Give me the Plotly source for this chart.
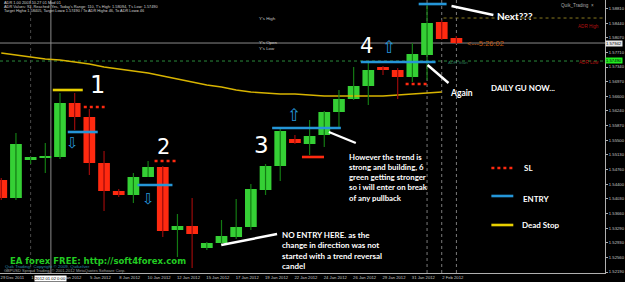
import plotly.graph_objects as go

# ---------------- data (daily GBPUSD candles, index 0 = 29 Dec 2011) ----------------
candle_idx = list(range(32))
opens = [1.54501, 1.54049, 1.55003, 1.55054, 1.55079, 1.56435, 1.56084, 1.54928,
         1.54225, 1.54124, 1.54576, 1.54828, 1.53245, 1.53346, 1.52793, 1.52918,
         1.53069, 1.53320, 1.54250, 1.54853, 1.55531, 1.55405, 1.55631, 1.56209,
         1.56536, 1.56862, 1.57340, 1.57264, 1.57088, 1.57641, 1.58470, 1.58068]
highs = [1.54551, 1.55682, 1.55079, 1.55430, 1.56686, 1.56686, 1.56285, 1.55230,
         1.54275, 1.54677, 1.54978, 1.54853, 1.53647, 1.54049, 1.52944, 1.53496,
         1.54024, 1.54401, 1.54903, 1.55782, 1.55631, 1.56008, 1.56234, 1.56762,
         1.57340, 1.57490, 1.57365, 1.57314, 1.57942, 1.58897, 1.58520, 1.58118]
lows = [1.53999, 1.53999, 1.54903, 1.54677, 1.55029, 1.55757, 1.54627, 1.53722,
        1.54074, 1.53923, 1.54576, 1.53069, 1.52567, 1.52290, 1.52743, 1.52868,
        1.53019, 1.53245, 1.54124, 1.54476, 1.55405, 1.55129, 1.55330, 1.55782,
        1.56511, 1.56385, 1.57139, 1.56536, 1.56963, 1.57013, 1.58018, 1.57917]
closes = [1.54049, 1.55405, 1.55079, 1.55104, 1.56435, 1.56084, 1.54928, 1.54225,
          1.54124, 1.54576, 1.54828, 1.53220, 1.53346, 1.53145, 1.52918, 1.53094,
          1.53320, 1.54275, 1.54853, 1.55732, 1.55430, 1.55606, 1.56209, 1.56536,
          1.56862, 1.57264, 1.57264, 1.57088, 1.57666, 1.58445, 1.58043, 1.57942]

ma_idx = list(range(31))
ma_values = [1.57691, 1.57641, 1.57591, 1.57541, 1.57515, 1.57465, 1.57415, 1.57340,
             1.57289, 1.57239, 1.57189, 1.57114, 1.57038, 1.56963, 1.56887, 1.56837,
             1.56762, 1.56712, 1.56686, 1.56661, 1.56661, 1.56636, 1.56611, 1.56611,
             1.56611, 1.56611, 1.56611, 1.56636, 1.56661, 1.56686, 1.56712]

# trade levels drawn on the chart: price, start candle, end candle
sl_price = [1.56335, 1.54978, 1.56913]
sl_start = [5.62, 10.44, 27.54]
sl_end = [7.04, 11.93, 29.11]
sl_solid_price = [1.55079]
sl_solid_start = [20.48]
sl_solid_end = [21.98]
entry_price = [1.55707, 1.54375, 1.55807, 1.57465, 1.58922]
entry_start = [4.53, 9.28, 18.45, 24.49, 28.43]
entry_end = [6.57, 11.66, 23.13, 29.58, 30.33]
dead_price = [1.56762]
dead_start = [3.51]
dead_end = [5.55]

bid_price = 1.57942
adr_low = 1.57490
ys_high = 1.58570

x_label_idx = [0, 2, 4, 6, 8, 10, 12, 14, 16, 18, 20, 22, 24, 26, 28, 30]
x_labels = ["29 Dec 2011", "1 Jan 2012", "3 Jan 2012", "5 Jan 2012", "8 Jan 2012",
            "10 Jan 2012", "12 Jan 2012", "15 Jan 2012", "17 Jan 2012", "19 Jan 2012",
            "22 Jan 2012", "24 Jan 2012", "26 Jan 2012", "29 Jan 2012", "31 Jan 2012",
            "2 Feb 2012"]
y_ticks = [1.52190, 1.52560, 1.52930, 1.53290, 1.53660, 1.54030, 1.54400, 1.54760,
           1.55130, 1.55500, 1.55870, 1.56240, 1.56600, 1.56970, 1.57340, 1.57710,
           1.58070, 1.58440, 1.58810]

# ---------------- styling ----------------
GREEN_BODY = "#35d035"
RED_BODY = "#ff2a10"
GREEN_WICK = "#137a13"
RED_WICK = "#9a0a0a"
BLUE = "#2596d8"
SL_RED = "#ff2a10"
YELLOW = "#e8d000"
AX = "#b0b0b0"
SMALL = "Liberation Sans"
NOTE = "Lato"

W, H = 625, 282
PL, PR, PT, PB = 0, 18, 0, 9
PW, PH = W - PL - PR, H - PT - PB


def px(x):
    return (x - PL) / PW


def py(y):
    return (PT + PH - y) / PH


fig = go.Figure()

# moving average
fig.add_trace(go.Scatter(x=ma_idx, y=ma_values, mode="lines",
                         line=dict(color="#d8b400", width=1.4), hoverinfo="skip"))

# wicks
gx, gy, rx, ry = [], [], [], []
for i, o, h, l, c in zip(candle_idx, opens, highs, lows, closes):
    if c >= o:
        gx += [i, i, None]; gy += [l, h, None]
    else:
        rx += [i, i, None]; ry += [l, h, None]
fig.add_trace(go.Scatter(x=gx, y=gy, mode="lines", line=dict(color=GREEN_WICK, width=1.2), hoverinfo="skip"))
fig.add_trace(go.Scatter(x=rx, y=ry, mode="lines", line=dict(color=RED_WICK, width=1.2), hoverinfo="skip"))

# bodies
bases, heights, cols = [], [], []
for o, c in zip(opens, closes):
    bases.append(min(o, c))
    heights.append(max(abs(c - o), 0.00018))
    cols.append(GREEN_BODY if c >= o else RED_BODY)
fig.add_trace(go.Bar(x=candle_idx, y=heights, base=bases, width=0.8,
                     marker=dict(color=cols, line=dict(width=0)), hoverinfo="skip"))


def seg(prices, starts, ends):
    xs, ys = [], []
    for p, s, e in zip(prices, starts, ends):
        xs += [s, e, None]; ys += [p, p, None]
    return xs, ys


for (pr, st, en), color, dash in [
    ((entry_price, entry_start, entry_end), BLUE, "solid"),
    ((sl_price, sl_start, sl_end), SL_RED, "dot"),
    ((sl_solid_price, sl_solid_start, sl_solid_end), SL_RED, "solid"),
    ((dead_price, dead_start, dead_end), YELLOW, "solid"),
]:
    xs, ys = seg(pr, st, en)
    fig.add_trace(go.Scatter(x=xs, y=ys, mode="lines",
                             line=dict(color=color, width=2.6, dash=dash), hoverinfo="skip"))

shapes = []
# horizontal indicator lines
shapes.append(dict(type="line", xref="paper", x0=0, x1=1, yref="y", y0=bid_price, y1=bid_price,
                   line=dict(color="#8a8a8a", width=1), layer="below"))
shapes.append(dict(type="line", xref="paper", x0=0, x1=1, yref="y", y0=adr_low, y1=adr_low,
                   line=dict(color="#2a8a3a", width=1, dash="dot"), layer="below"))
shapes.append(dict(type="line", xref="paper", x0=px(445), x1=1, yref="y", y0=ys_high, y1=ys_high,
                   line=dict(color="#8a7a20", width=1, dash="dot"), layer="below"))
# vertical separators
for xv, col, dash in [(2, "#4a4a4a", "dot"), (29, "#7a7a7a", "dot"), (30, "#7a7a7a", "dot"),
                      (31, "#7a7a7a", "dot"), (3.38, "#8a8a8a", "solid")]:
    shapes.append(dict(type="line", xref="x", x0=xv, x1=xv, yref="paper", y0=0, y1=1,
                       line=dict(color=col, width=1, dash=dash), layer="below"))
# white pointer strokes
for (x0, y0, x1, y1) in [(453, 6, 495, 15), (429, 65, 450, 83), (330, 132, 357, 143), (222, 245, 278, 234)]:
    shapes.append(dict(type="line", xref="paper", yref="paper", x0=px(x0), y0=py(y0), x1=px(x1), y1=py(y1),
                       line=dict(color="white", width=2.4)))
# legend samples
for yy, col, dash in [(168, SL_RED, "dot"), (196, BLUE, "solid"), (225, YELLOW, "solid")]:
    shapes.append(dict(type="line", xref="paper", yref="paper", x0=px(493), x1=px(515), y0=py(yy), y1=py(yy),
                       line=dict(color=col, width=2.6, dash=dash)))

ann = []


def text(x, y, s, size, color, family=SMALL, xanchor="left", yanchor="middle", bold=False, bg=None):
    d = dict(xref="paper", yref="paper", x=px(x), y=py(y), text=("<b>%s</b>" % s) if bold else s,
             showarrow=False, xanchor=xanchor, yanchor=yanchor, align="left",
             font=dict(family=family, size=size, color=color))
    if bg:
        d["bgcolor"] = bg
        d["borderpad"] = 0
    ann.append(d)


# indicator info block (top-left)
text(2, 2.2, "ADR 1.00 2003.10.27 01 Mod 01", 3.9, "#d0d0d0")
text(2, 6.6, "ADR Values: 92, Reached: Yes, Today's Range: 110, T's High: 1.58094, T's Low: 1.57490", 3.9, "#d0d0d0")
text(2, 11, "Target High= 1.58405, Target Low= 1.57490 / To ADR High= 46, To ADR Low= 46", 3.9, "#d0d0d0")

text(258, 19, "Y's High", 4.4, "#c8c8c8")
text(258, 42, "Y's Open", 4.4, "#c8c8c8")
text(258, 48, "Y's Low", 4.4, "#c8c8c8")
text(603, 27, "ADR High", 4.6, "#b01010", xanchor="right")
text(603, 63, "ADR Low", 4.6, "#b01010", xanchor="right")
text(447, 63, "ADR Start", 4.4, "#2e7a5a")
text(467, 44, "<---5:26:02", 7.5, "#c05a10")
text(598, 5, "Quik_Trading  \u00d7", 4.6, "#a8a8a8", xanchor="right")

# price tags on the axis
text(607.5, 43, "1.57942", 4.2, "#000000", bg="#e8e8e8")
text(607.5, 61, "1.57490", 4.2, "#000000", bg="#22ee22")
# date cursor tag
text(51, 278, "2012.01.02 0:00", 4.2, "#000000", xanchor="center", bg="#ffffff")

# hand notes
text(98, 85, "1", 24, "white", family="DejaVu Sans", xanchor="center")
text(164, 147, "2", 21, "white", family="DejaVu Sans", xanchor="center")
text(262, 145, "3", 23, "white", family="DejaVu Sans", xanchor="center")
text(368, 46, "4", 21, "white", family="DejaVu Sans", xanchor="center")
text(73, 143, "\u21e9", 15, BLUE, family="DejaVu Sans", xanchor="center")
text(149, 199, "\u21e9", 15, BLUE, family="DejaVu Sans", xanchor="center")
text(295, 115, "\u21e7", 17, BLUE, family="DejaVu Sans", xanchor="center")
text(390, 47, "\u21e7", 17, BLUE, family="DejaVu Sans", xanchor="center")

text(497, 16, "Next???", 10, "white", family=NOTE, bold=True)
text(449, 93, "Again", 8.5, "white", family=NOTE, bold=True)
text(491, 88, "DAILY GU NOW...", 8, "white", family=NOTE, bold=True)
text(348, 150, "However the trend is<br>strong and building, 6<br>green getting stronger<br>so i will enter on break<br>of any pullback",
     7.8, "white", family=NOTE, yanchor="top", bold=True)
text(281, 228, "NO ENTRY HERE. as the<br>change in direction was not<br>started with a trend reversal<br>candel",
     8, "white", family=NOTE, yanchor="top", bold=True)
text(524, 168, "SL", 8, "white", family=NOTE, bold=True)
text(523, 199, "ENTRY", 8, "white", family=NOTE, bold=True)
text(522, 225, "Dead Stop", 8, "white", family=NOTE, bold=True)

text(8, 260.5, "EA forex FREE: http://soft4forex.com", 8.5, "#22cc22", family="DejaVu Sans", bold=True)
text(3, 266, "Quik Trading,  Copyright \u00a9 2009, Quikzilver", 4.4, "#2a8aa8")
text(2, 270.3, "GBPUSD Spread Trading, \u00a9 2001-2012 MetaQuotes Software Corp.", 4.0, "#a0a0a0")

fig.update_layout(
    width=W, height=H, margin=dict(l=PL, r=PR, t=PT, b=PB),
    paper_bgcolor="#000000", plot_bgcolor="#000000",
    showlegend=False, shapes=shapes, annotations=ann, barmode="overlay",
    xaxis=dict(range=[-0.086, 41.12], showgrid=False, zeroline=False, showline=True,
               linecolor=AX, linewidth=1, tickvals=[i + 0.75 for i in x_label_idx], ticktext=x_labels,
               tickfont=dict(family=SMALL, size=4.2, color="#c8c8c8"), ticks="", ticklen=0, fixedrange=True),
    yaxis=dict(range=[1.52165, 1.59023], side="right", showgrid=False, zeroline=False, showline=True,
               linecolor=AX, linewidth=1, tickvals=y_ticks, ticktext=["%.5f" % v for v in y_ticks],
               tickfont=dict(family=SMALL, size=4.2, color="#c8c8c8"), ticks="outside", ticklen=2,
               tickcolor=AX, fixedrange=True),
)

fig.write_html("out.html")
